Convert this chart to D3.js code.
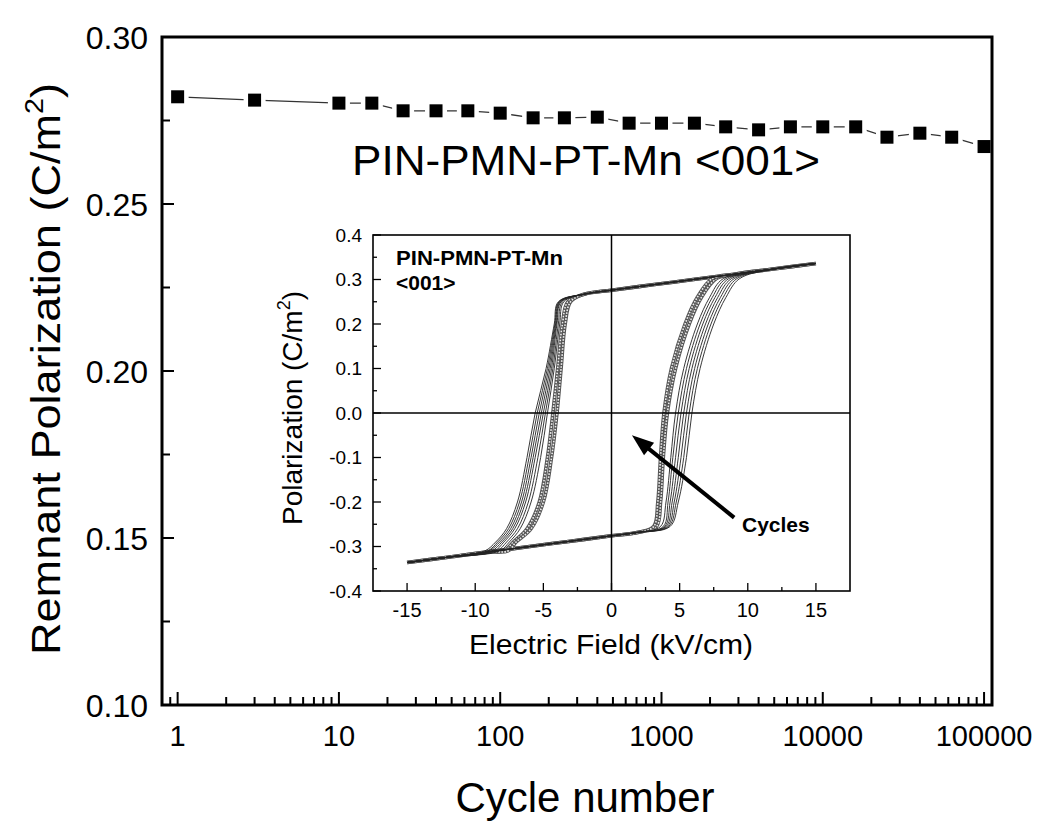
<!DOCTYPE html>
<html><head><meta charset="utf-8">
<script src="https://cdn.jsdelivr.net/npm/d3@7"></script>
<style>body{margin:0;background:#fff}svg{display:block}text{font-family:Arial,"Liberation Sans",Helvetica,sans-serif;fill:#000}</style>
</head><body><svg id="c" width="1050" height="834"></svg>
<script>
// ---------- main chart data ----------
const cycles = [1,3,10,16,25,40,63,100,160,250,400,630,1000,1600,2500,4000,6300,10000,16000,25000,40000,63000,100000];
const remnantP = [0.2821,0.2811,0.2802,0.2802,0.2779,0.2779,0.2779,0.2772,0.2758,0.2758,0.2760,0.2742,0.2742,0.2742,0.2731,0.2722,0.2731,0.2731,0.2731,0.2700,0.2712,0.2700,0.2672];
const mainXTickLabels = [1,10,100,1000,10000,100000];
const mainYTicks = [0.10,0.15,0.20,0.25,0.30];
const mainYMinor = [0.125,0.175,0.225,0.275];

// ---------- inset data (P-E loops) ----------
const insetXTicks = [-15,-10,-5,0,5,10,15];
const insetXMinor = [-12.5,-7.5,-2.5,2.5,7.5,12.5];
const insetYTicks = [-0.4,-0.3,-0.2,-0.1,0,0.1,0.2,0.3,0.4];
const insetYMinor = [-0.35,-0.25,-0.15,-0.05,0.05,0.15,0.25,0.35];
const upperBranch = [[15,0.336],[12,0.324],[9,0.312],[6,0.300],[3,0.288],[0,0.276],[-2,0.267]];
const lowerBranch = [[-15,-0.336],[-12,-0.324],[-9,-0.312],[-6,-0.300],[-3,-0.288],[0,-0.276],[2,-0.268]];
const leftP  = [0.25,0.2,0.1,0,-0.1,-0.2,-0.26,-0.29,-0.31];
const rightP = [-0.255,-0.2,-0.1,0,0.1,0.2,0.26,0.302];
const loopLeftE = [
  [-3.9,-4.2,-4.8,-5.6,-6.2,-6.9,-7.7,-8.5,-9.3],
  [-3.85,-4.15,-4.7,-5.45,-6.05,-6.75,-7.55,-8.35,-9.1],
  [-3.8,-4.1,-4.6,-5.3,-5.9,-6.6,-7.4,-8.2,-9.0],
  [-3.75,-4.05,-4.5,-5.15,-5.75,-6.45,-7.25,-8.05,-8.8],
  [-3.7,-4.0,-4.4,-5.0,-5.6,-6.3,-7.1,-7.9,-8.6],
  [-3.6,-3.9,-4.3,-4.85,-5.4,-6.1,-6.9,-7.7,-8.4],
  [-3.5,-3.8,-4.2,-4.7,-5.2,-5.9,-6.7,-7.5,-8.2],
  [-3.2,-3.6,-3.95,-4.3,-4.7,-5.3,-6.2,-7.2,-7.9],
  [-3.0,-3.4,-3.7,-4.0,-4.4,-5.0,-5.9,-7.0,-7.6]
];
const loopRightE = [
  [4.3,4.9,5.5,5.9,6.5,7.5,8.4,9.4],
  [4.2,4.75,5.3,5.7,6.3,7.3,8.2,9.2],
  [4.1,4.6,5.1,5.5,6.1,7.1,8.0,9.0],
  [4.0,4.45,4.9,5.3,5.9,6.9,7.8,8.8],
  [3.9,4.3,4.7,5.1,5.7,6.7,7.6,8.6],
  [3.8,4.15,4.5,4.9,5.5,6.5,7.4,8.4],
  [3.6,4.0,4.35,4.7,5.3,6.3,7.2,8.2],
  [3.3,3.6,3.8,4.1,4.7,5.7,6.6,7.7],
  [3.1,3.4,3.6,3.85,4.4,5.4,6.3,7.4]
];
const loopStyle = ["line","line","line","line","line","line","line","symbol","symbol"];
const arrowTail = [9.0,-0.235], arrowTip = [1.5,-0.05];

const svg = d3.select("#c");

// ---------- main chart ----------
const x = d3.scaleLog().domain([0.8,112000]).range([162,992]);
const y = d3.scaleLinear().domain([0.10,0.30]).range([705,37]);

const gM = svg.append("g");
x.ticks().filter(t=>t>=0.8&&t<=112000).forEach(t=>{
  const major = Math.abs(Math.log10(t)-Math.round(Math.log10(t)))<1e-9;
  gM.append("line").attr("x1",x(t)).attr("x2",x(t)).attr("y1",705).attr("y2",705-(major?13:8))
    .attr("stroke","#000").attr("stroke-width",2);
});
mainYTicks.concat(mainYMinor).forEach(t=>{
  const major = mainYTicks.includes(t);
  gM.append("line").attr("y1",y(t)).attr("y2",y(t)).attr("x1",162).attr("x2",162+(major?12:8))
    .attr("stroke","#000").attr("stroke-width",2);
});
mainXTickLabels.forEach(t=>{
  gM.append("text").attr("x",x(t)).attr("y",746).attr("text-anchor","middle")
    .attr("font-size",29).text(String(t));
});
mainYTicks.forEach(t=>{
  gM.append("text").attr("x",148).attr("y",y(t)).attr("dy","0.36em").attr("text-anchor","end")
    .attr("font-size",32).text(d3.format(".2f")(t));
});

const pts = cycles.map((c,i)=>[c,remnantP[i]]);
svg.append("path").attr("d",d3.line().x(d=>x(d[0])).y(d=>y(d[1]))(pts))
  .attr("fill","none").attr("stroke","#333").attr("stroke-width",1.3);
svg.append("g").selectAll("rect").data(pts).join("rect")
  .attr("x",d=>x(d[0])-11).attr("y",d=>y(d[1])-11).attr("width",22).attr("height",22).attr("fill","#fff");
svg.append("g").selectAll("rect").data(pts).join("rect")
  .attr("x",d=>x(d[0])-6.5).attr("y",d=>y(d[1])-6.5).attr("width",13).attr("height",13).attr("fill","#000");

svg.append("rect").attr("x",162).attr("y",37).attr("width",830).attr("height",668)
  .attr("fill","none").attr("stroke","#000").attr("stroke-width",3);

svg.append("text").attr("x",352).attr("y",175).attr("font-size",42)
  .attr("textLength",468).attr("lengthAdjust","spacingAndGlyphs").text("PIN-PMN-PT-Mn <001>");
svg.append("text").attr("x",585).attr("y",812).attr("text-anchor","middle").attr("font-size",42)
  .text("Cycle number");
const yl = svg.append("text").attr("transform","translate(60,369) rotate(-90) scale(1.1,1)").attr("text-anchor","middle").attr("font-size",41);
yl.append("tspan").text("Remnant Polarization (C/m");
yl.append("tspan").attr("font-size",26).attr("dy",-17).text("2");
yl.append("tspan").attr("dy",17).text(")");

// ---------- inset ----------
const xi = d3.scaleLinear().domain([-17.5,17.5]).range([373,850]);
const yi = d3.scaleLinear().domain([-0.4,0.4]).range([591,235]);
const gI = svg.append("g");
gI.append("rect").attr("x",373).attr("y",235).attr("width",477).attr("height",356).attr("fill","#fff");

const line = d3.line().x(d=>xi(d[0])).y(d=>yi(d[1])).curve(d3.curveCatmullRom.alpha(0.5));
const loops = loopLeftE.map((le,i)=>{
  const left = leftP.map((p,j)=>[le[j],p]);
  const right = rightP.map((p,j)=>[loopRightE[i][j],p]);
  const kneeL = left[0][0], joinL = left[left.length-1][0];
  const kneeR = right[0][0], joinR = right[right.length-1][0];
  const desc = upperBranch.filter(d=>d[0]>kneeL+0.8).concat(left, lowerBranch.slice().reverse().filter(d=>d[0]<joinL-0.8));
  const asc = lowerBranch.filter(d=>d[0]<kneeR-0.8).concat(right, upperBranch.slice().reverse().filter(d=>d[0]>joinR+0.8));
  return {pts: desc.concat(asc.slice(1)), style: loopStyle[i]};
});
loops.filter(l=>l.style==="symbol").forEach(l=>{
  gI.append("path").attr("d",line(l.pts)).attr("fill","none").attr("stroke","#555").attr("stroke-width",3.6);
  gI.append("path").attr("d",line(l.pts)).attr("fill","none").attr("stroke","#eee").attr("stroke-width",1.6).attr("stroke-dasharray","1.6,1.4");
});
loops.filter(l=>l.style==="line").forEach(l=>{
  gI.append("path").attr("d",line(l.pts)).attr("fill","none").attr("stroke","#222").attr("stroke-width",0.9);
});

gI.append("line").attr("x1",xi(0)).attr("x2",xi(0)).attr("y1",235).attr("y2",591).attr("stroke","#000").attr("stroke-width",1.5);
gI.append("line").attr("x1",373).attr("x2",850).attr("y1",yi(0)).attr("y2",yi(0)).attr("stroke","#000").attr("stroke-width",1.5);
insetXTicks.concat(insetXMinor).forEach(t=>{
  const major = insetXTicks.includes(t);
  gI.append("line").attr("x1",xi(t)).attr("x2",xi(t)).attr("y1",591).attr("y2",591-(major?8:4)).attr("stroke","#000").attr("stroke-width",1.3);
});
insetYTicks.concat(insetYMinor).forEach(t=>{
  const major = insetYTicks.includes(t);
  gI.append("line").attr("y1",yi(t)).attr("y2",yi(t)).attr("x1",373).attr("x2",373+(major?8:4)).attr("stroke","#000").attr("stroke-width",1.3);
});
gI.append("rect").attr("x",373).attr("y",235).attr("width",477).attr("height",356)
  .attr("fill","none").attr("stroke","#000").attr("stroke-width",1.6);
insetXTicks.forEach(t=>{
  gI.append("text").attr("x",xi(t)).attr("y",617).attr("text-anchor","middle").attr("font-size",20).text(String(t));
});
insetYTicks.forEach(t=>{
  gI.append("text").attr("x",362).attr("y",yi(t)).attr("dy","0.36em").attr("text-anchor","end").attr("font-size",19).text(t.toFixed(1));
});
gI.append("text").attr("x",611).attr("y",654).attr("text-anchor","middle").attr("font-size",27)
  .attr("textLength",284).attr("lengthAdjust","spacingAndGlyphs").text("Electric Field (kV/cm)");
const yil = gI.append("text").attr("transform","translate(302,408) rotate(-90)").attr("text-anchor","middle").attr("font-size",28);
yil.append("tspan").text("Polarization (C/m");
yil.append("tspan").attr("font-size",18).attr("dy",-12).text("2");
yil.append("tspan").attr("dy",12).text(")");
gI.append("text").attr("x",396).attr("y",265).attr("font-size",21).attr("font-weight","bold")
  .attr("textLength",167).attr("lengthAdjust","spacingAndGlyphs").text("PIN-PMN-PT-Mn");
gI.append("text").attr("x",396).attr("y",290).attr("font-size",21).attr("font-weight","bold").text("<001>");
gI.append("text").attr("x",742).attr("y",532).attr("font-size",21).attr("font-weight","bold").text("Cycles");

const tx = xi(arrowTail[0]), ty = yi(arrowTail[1]), hx = xi(arrowTip[0]), hy = yi(arrowTip[1]);
const ang = Math.atan2(hy-ty,hx-tx), hl = 22, hw = 8;
const bx = hx-hl*Math.cos(ang), by = hy-hl*Math.sin(ang);
gI.append("line").attr("x1",tx).attr("y1",ty).attr("x2",bx+3*Math.cos(ang)).attr("y2",by+3*Math.sin(ang))
  .attr("stroke","#000").attr("stroke-width",4);
gI.append("path").attr("d",`M${hx},${hy}L${bx-hw*Math.sin(ang)},${by+hw*Math.cos(ang)}L${bx+hw*Math.sin(ang)},${by-hw*Math.cos(ang)}Z`).attr("fill","#000");
</script></body></html>
